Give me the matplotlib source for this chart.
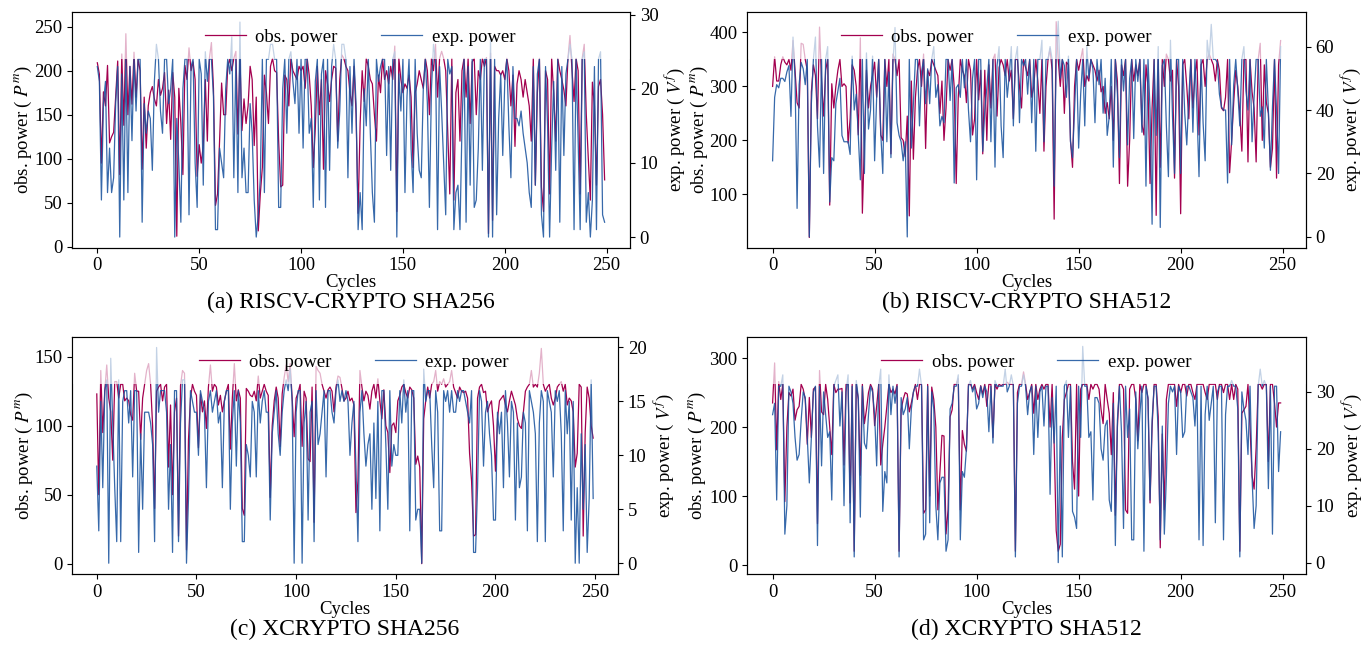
import matplotlib
matplotlib.use("Agg")
import matplotlib.pyplot as plt
from matplotlib.patches import Rectangle
from matplotlib.ticker import FuncFormatter

plt.rcParams['font.family'] = ['Liberation Serif', 'DejaVu Serif']
plt.rcParams['mathtext.fontset'] = 'stix'
plt.rcParams['font.size'] = 13.5

OBS_COLOR = '#a3004f'
EXP_COLOR = '#1b549f'

titles = ['(a) RISCV-CRYPTO SHA256', '(b) RISCV-CRYPTO SHA512',
          '(c) XCRYPTO SHA256', '(d) XCRYPTO SHA512']

# ---- (a) RISCV-CRYPTO SHA256 ----
obs_a = [
    209, 196, 95, 176, 160, 206, 118, 125, 130, 170, 211, 82, 219, 138, 242, 150, 205, 162, 221, 170, 213, 200, 88, 170, 112,
    160, 175, 182, 168, 160, 190, 172, 180, 198, 140, 178, 122, 198, 170, 12, 180, 140, 82, 206, 190, 226, 200, 210, 190, 80,
    116, 95, 115, 190, 120, 214, 232, 180, 47, 60, 120, 186, 150, 150, 205, 213, 200, 214, 222, 128, 214, 132, 168, 140, 160,
    205, 190, 115, 170, 18, 60, 90, 195, 175, 140, 205, 214, 200, 198, 120, 68, 70, 195, 190, 160, 214, 200, 195, 190, 205,
    200, 205, 180, 214, 195, 160, 90, 135, 205, 150, 190, 88, 200, 185, 165, 190, 205, 203, 120, 190, 218, 214, 205, 200, 175,
    160, 205, 150, 38, 140, 200, 165, 214, 205, 190, 185, 150, 120, 195, 175, 214, 190, 200, 185, 205, 190, 228, 40, 214, 190,
    175, 185, 180, 195, 170, 90, 175, 185, 200, 190, 180, 214, 200, 150, 214, 200, 230, 170, 214, 222, 214, 200, 130, 60, 214,
    53, 175, 190, 120, 200, 214, 170, 214, 140, 210, 214, 150, 200, 190, 214, 205, 215, 15, 220, 30, 205, 200, 200, 195, 200,
    190, 214, 200, 160, 195, 114, 185, 200, 190, 170, 190, 175, 160, 120, 214, 70, 175, 214, 68, 40, 200, 190, 60, 214, 175,
    120, 214, 200, 190, 178, 160, 214, 240, 200, 165, 214, 200, 60, 214, 230, 150, 100, 53, 187, 160, 70, 182, 190, 150, 76,
]
exp_a = [
    23, 21, 5, 18, 21, 6, 12, 6, 8, 18, 23, 0, 22, 5, 24, 6, 23, 13, 24, 17, 24, 24, 2, 18, 14,
    17, 16, 9, 21, 26, 24, 17, 14, 24, 24, 18, 20, 24, 0, 16, 10, 2, 20, 24, 24, 3, 23, 24, 10, 4,
    24, 22, 7, 25, 21, 24, 24, 19, 1, 1, 12, 10, 8, 20, 24, 22, 27, 8, 24, 6, 29, 8, 12, 6, 6,
    18, 14, 5, 0, 3, 8, 24, 6, 24, 24, 26, 26, 24, 24, 4, 4, 20, 24, 14, 24, 25, 21, 18, 24, 14,
    24, 12, 24, 24, 14, 16, 4, 21, 24, 5, 22, 24, 4, 24, 9, 23, 26, 24, 12, 17, 26, 26, 24, 8, 23,
    14, 24, 18, 1, 6, 1, 20, 15, 24, 14, 6, 2, 24, 21, 23, 24, 24, 11, 23, 9, 24, 25, 0, 22, 17,
    24, 6, 19, 24, 12, 6, 24, 14, 9, 8, 20, 24, 18, 4, 20, 26, 24, 1, 23, 17, 10, 3, 24, 22, 23,
    1, 6, 7, 1, 15, 24, 2, 23, 7, 24, 4, 5, 12, 24, 9, 24, 24, 0, 27, 0, 24, 3, 16, 22, 11,
    21, 24, 15, 8, 23, 16, 16, 15, 17, 14, 12, 10, 6, 4, 23, 7, 22, 24, 3, 0, 23, 15, 0, 12, 21,
    9, 24, 2, 23, 11, 22, 24, 26, 24, 1, 24, 13, 1, 24, 25, 2, 6, 0, 5, 23, 1, 24, 25, 3, 2,
]

# ---- (b) RISCV-CRYPTO SHA512 ----
obs_b = [
    300, 355, 310, 310, 340, 355, 345, 340, 350, 330, 385, 330, 270, 260, 380, 378, 350, 330, 20, 290, 340, 320, 240, 410, 310,
    245, 330, 350, 80, 305, 260, 300, 330, 350, 300, 305, 300, 195, 240, 340, 330, 300, 210, 390, 65, 200, 330, 260, 300, 320,
    345, 280, 350, 210, 200, 350, 300, 350, 175, 360, 350, 320, 350, 205, 200, 170, 245, 60, 310, 165, 280, 330, 350, 300, 360,
    185, 330, 320, 350, 340, 330, 320, 250, 310, 200, 260, 350, 330, 350, 300, 120, 280, 350, 330, 320, 270, 350, 330, 210, 240,
    350, 275, 330, 175, 330, 200, 340, 260, 350, 360, 245, 335, 350, 340, 320, 350, 310, 330, 240, 350, 350, 300, 260, 350, 335,
    320, 350, 280, 300, 350, 310, 250, 350, 180, 300, 350, 370, 330, 54, 420, 350, 300, 350, 250, 345, 340, 200, 150, 300, 350,
    330, 350, 370, 300, 320, 310, 350, 340, 330, 310, 330, 290, 300, 250, 270, 240, 300, 200, 350, 310, 120, 340, 320, 350, 115,
    200, 350, 310, 340, 320, 350, 230, 210, 340, 300, 120, 260, 350, 61, 350, 150, 350, 300, 360, 350, 310, 330, 130, 350, 300,
    64, 340, 350, 300, 240, 350, 260, 320, 350, 210, 340, 350, 300, 350, 360, 350, 340, 310, 350, 330, 260, 255, 280, 350, 140,
    200, 270, 330, 300, 250, 180, 350, 350, 160, 350, 290, 260, 160, 350, 380, 200, 340, 270, 250, 150, 185, 350, 130, 340, 385,
]
exp_b = [
    24, 44, 48, 47, 50, 50, 49, 52, 54, 38, 63, 50, 9, 48, 55, 53, 48, 56, 0, 42, 56, 63, 35, 22, 56,
    20, 56, 60, 11, 25, 24, 42, 46, 50, 32, 30, 30, 30, 26, 57, 40, 45, 32, 18, 56, 20, 58, 34, 40, 57,
    24, 44, 56, 33, 20, 56, 30, 52, 25, 55, 66, 36, 32, 30, 24, 30, 0, 56, 28, 42, 56, 56, 35, 52, 56,
    42, 53, 42, 56, 60, 44, 48, 35, 38, 36, 56, 56, 43, 56, 17, 47, 48, 44, 56, 47, 56, 40, 30, 50, 56,
    18, 56, 56, 27, 40, 47, 56, 30, 56, 22, 54, 60, 35, 25, 56, 44, 51, 60, 35, 56, 60, 36, 56, 54, 56,
    45, 56, 36, 56, 27, 56, 56, 62, 30, 56, 56, 60, 56, 16, 56, 68, 50, 56, 54, 44, 57, 30, 25, 40, 56,
    28, 45, 56, 35, 60, 50, 56, 53, 36, 56, 48, 56, 39, 50, 32, 38, 56, 22, 56, 45, 25, 56, 46, 56, 29,
    50, 56, 31, 56, 49, 56, 33, 56, 16, 56, 40, 4, 56, 32, 60, 3, 54, 56, 35, 19, 62, 38, 20, 56, 56,
    20, 56, 39, 29, 44, 56, 33, 56, 40, 19, 56, 36, 24, 62, 56, 67, 56, 56, 55, 45, 41, 40, 40, 17, 56,
    29, 48, 56, 46, 35, 56, 60, 46, 40, 56, 30, 44, 56, 56, 38, 41, 28, 56, 40, 21, 41, 56, 40, 20, 60,
]

# ---- (c) XCRYPTO SHA256 ----
obs_c = [
    123, 50, 140, 95, 125, 144, 120, 110, 75, 132, 132, 120, 130, 130, 118, 120, 118, 108, 104, 138, 125, 125, 90, 120, 130,
    140, 145, 130, 100, 40, 125, 128, 130, 118, 128, 130, 70, 115, 50, 110, 120, 20, 129, 140, 138, 10, 90, 120, 130, 125,
    122, 84, 123, 110, 118, 98, 128, 144, 125, 130, 128, 115, 122, 110, 118, 125, 130, 83, 120, 145, 118, 126, 120, 40, 35,
    127, 125, 122, 121, 125, 118, 136, 120, 125, 130, 125, 122, 48, 100, 118, 128, 120, 85, 123, 135, 144, 132, 145, 120, 92,
    120, 124, 130, 85, 125, 120, 76, 74, 128, 30, 143, 140, 138, 130, 125, 120, 126, 128, 125, 110, 128, 136, 135, 127, 118,
    120, 125, 118, 120, 115, 37, 60, 140, 128, 118, 125, 122, 112, 125, 130, 120, 134, 118, 105, 126, 100, 95, 66, 100, 102,
    95, 118, 122, 128, 130, 124, 120, 128, 126, 120, 72, 78, 70, 0, 105, 118, 128, 120, 130, 132, 140, 125, 132, 130, 134,
    128, 130, 132, 140, 128, 124, 120, 128, 125, 124, 125, 120, 80, 60, 20, 21, 120, 128, 130, 124, 125, 110, 115, 118, 100,
    67, 105, 118, 120, 122, 115, 110, 118, 125, 120, 115, 105, 100, 98, 110, 125, 128, 130, 140, 128, 130, 128, 138, 156, 130,
    125, 128, 130, 120, 115, 120, 128, 130, 132, 125, 130, 115, 120, 118, 110, 70, 80, 130, 128, 20, 95, 128, 120, 100, 91,
]
exp_c = [
    9, 3, 15, 7, 16, 17, 0, 19, 13, 7, 2, 17, 2, 15, 16, 16, 13, 16, 8, 16, 16, 1, 12, 5, 14,
    14, 14, 13, 11, 2, 20, 14, 16, 16, 16, 14, 5, 11, 1, 16, 16, 2, 13, 17, 17, 0, 6, 16, 15, 14,
    14, 10, 16, 15, 14, 7, 15, 16, 14, 15, 16, 13, 14, 7, 15, 16, 16, 5, 13, 16, 9, 16, 13, 2, 2,
    11, 10, 8, 15, 14, 8, 16, 13, 15, 16, 14, 14, 4, 12, 14, 16, 12, 10, 14, 16, 17, 16, 18, 15, 0,
    14, 16, 16, 0, 13, 15, 4, 14, 15, 2, 16, 11, 12, 14, 16, 8, 16, 16, 14, 13, 16, 17, 15, 16, 15,
    16, 15, 10, 13, 15, 9, 2, 14, 16, 12, 9, 11, 12, 5, 13, 6, 15, 3, 16, 16, 11, 5, 16, 9, 11,
    10, 10, 16, 13, 17, 14, 16, 3, 16, 16, 4, 5, 5, 0, 18, 15, 16, 16, 11, 7, 16, 14, 3, 3, 16,
    15, 16, 14, 16, 14, 14, 16, 15, 16, 16, 15, 14, 13, 16, 1, 1, 7, 16, 15, 9, 14, 15, 12, 10, 4,
    4, 14, 12, 14, 7, 16, 13, 8, 15, 14, 4, 13, 7, 8, 14, 13, 3, 16, 15, 14, 12, 2, 13, 16, 15,
    2, 16, 15, 14, 8, 16, 15, 16, 12, 3, 16, 12, 15, 4, 15, 0, 7, 0, 12, 5, 11, 1, 6, 17, 6,
]

# ---- (d) XCRYPTO SHA512 ----
obs_d = [
    235, 293, 167, 266, 240, 262, 92, 200, 250, 245, 255, 210, 225, 230, 262, 255, 240, 175, 243, 185, 255, 258, 60, 282, 222,
    218, 262, 240, 200, 160, 262, 250, 255, 255, 256, 145, 262, 262, 90, 262, 20, 262, 240, 130, 262, 205, 225, 250, 262, 255,
    202, 230, 262, 145, 175, 200, 230, 262, 250, 255, 248, 262, 20, 225, 240, 250, 248, 222, 235, 250, 262, 240, 262, 262, 75,
    80, 262, 100, 258, 240, 200, 80, 135, 188, 187, 45, 80, 215, 225, 262, 262, 270, 80, 195, 175, 165, 262, 262, 255, 262,
    250, 240, 260, 248, 262, 230, 262, 262, 185, 262, 255, 262, 260, 262, 262, 265, 262, 262, 262, 20, 250, 262, 262, 280, 262,
    240, 250, 262, 220, 262, 240, 255, 262, 255, 262, 262, 200, 262, 175, 50, 20, 30, 185, 240, 250, 262, 262, 150, 110, 262,
    100, 255, 262, 262, 262, 240, 262, 255, 262, 262, 255, 225, 205, 262, 240, 220, 160, 250, 72, 200, 262, 262, 255, 80, 75,
    255, 262, 262, 240, 180, 262, 250, 262, 262, 240, 90, 200, 262, 262, 215, 25, 190, 80, 240, 262, 262, 262, 262, 230, 262,
    250, 262, 262, 245, 262, 262, 250, 240, 262, 262, 262, 262, 250, 240, 262, 262, 262, 262, 240, 262, 262, 250, 262, 262, 240,
    262, 240, 262, 255, 20, 220, 225, 230, 262, 200, 130, 110, 170, 262, 262, 255, 262, 262, 150, 262, 262, 235, 200, 235, 235,
]
exp_d = [
    26, 28, 11, 31, 31, 33, 5, 10, 31, 30, 28, 22, 18, 19, 25, 30, 29, 22, 14, 22, 30, 31, 3, 31, 17,
    30, 26, 22, 23, 11, 31, 32, 33, 24, 30, 10, 30, 33, 7, 31, 1, 32, 29, 8, 31, 21, 20, 26, 31, 30,
    26, 17, 31, 34, 9, 16, 14, 33, 26, 31, 28, 31, 1, 29, 26, 27, 29, 20, 27, 30, 31, 31, 34, 31, 4,
    5, 31, 7, 30, 27, 10, 4, 14, 15, 15, 2, 4, 27, 28, 31, 31, 33, 4, 16, 15, 20, 31, 32, 30, 31,
    27, 28, 31, 29, 31, 30, 23, 31, 21, 32, 31, 31, 31, 31, 34, 30, 31, 33, 31, 1, 28, 31, 31, 33, 31,
    26, 30, 31, 19, 31, 22, 30, 31, 24, 31, 31, 12, 29, 21, 31, 0, 24, 1, 31, 32, 22, 31, 9, 8, 6,
    31, 22, 38, 31, 31, 22, 23, 11, 29, 29, 28, 20, 18, 24, 25, 11, 9, 28, 3, 25, 31, 23, 6, 31, 22,
    27, 4, 4, 30, 20, 26, 31, 2, 31, 29, 11, 25, 31, 31, 23, 4, 24, 5, 15, 28, 31, 30, 31, 19, 31,
    30, 22, 23, 31, 31, 30, 29, 24, 31, 4, 31, 3, 26, 31, 25, 28, 31, 7, 30, 31, 31, 4, 26, 31, 31,
    32, 31, 31, 27, 1, 30, 27, 25, 19, 31, 15, 6, 10, 31, 34, 31, 32, 31, 13, 31, 5, 31, 31, 16, 23,
]

panels = [
    (obs_a, exp_a, (-1.1, 266.7), (-1.44, 30.36)),
    (obs_b, exp_b, (1, 438), (-3.4, 70.9)),
    (obs_c, exp_c, (-7.5, 164.5), (-1.0, 21.0)),
    (obs_d, exp_d, (-13, 331), (-2.0, 39.7)),
]

# axes rectangles [left, bottom, width, height] in figure fraction
rects = [
    [0.0528, 0.6177, 0.4094, 0.3638],
    [0.5482, 0.6177, 0.4100, 0.3638],
    [0.0528, 0.1142, 0.4006, 0.3662],
    [0.5482, 0.1142, 0.4100, 0.3662],
]
# ylabel anchors (left label right edge, right label left edge), axes fraction
left_lab = [-0.068, -0.067, -0.068, -0.07]
right_lab = [1.059, 1.059, 1.062, 1.061]
legend_x = [0.516, 0.445, 0.516, 0.517]

fmt = FuncFormatter(lambda v, p: '%g' % v)

fig = plt.figure(figsize=(13.63, 6.48), dpi=100)
for i, (obs, exp, ylim1, ylim2) in enumerate(panels):
    assert len(obs) == 250 and len(exp) == 250, (i, len(obs), len(exp))
    ax = fig.add_axes(rects[i])
    ax2 = ax.twinx()
    cyc = list(range(len(obs)))
    l1, = ax.plot(cyc, obs, color=OBS_COLOR, lw=0.9)
    l2, = ax2.plot(cyc, exp, color=EXP_COLOR, lw=0.9, alpha=0.88)
    ax.set_ylim(*ylim1)
    ax2.set_ylim(*ylim2)
    ax.set_xlim(-12.45, 261.45)
    ax.set_xticks([0, 50, 100, 150, 200, 250])
    ax.yaxis.set_major_formatter(fmt)
    ax2.yaxis.set_major_formatter(fmt)
    ax.set_xlabel('Cycles', labelpad=0)
    ax.set_ylabel('obs. power ( $P^m$)')
    ax2.set_ylabel('exp. power ( $V^f$)')
    ax.yaxis.set_label_coords(left_lab[i], 0.5)
    ax2.yaxis.set_label_coords(right_lab[i], 0.5)
    # legend band fades the top of the plot
    ax2.add_patch(Rectangle((0, 0.8), 1, 0.2, transform=ax2.transAxes,
                            facecolor='white', edgecolor='none', alpha=0.7, zorder=4))
    for sp in ax2.spines.values():
        sp.set_zorder(6)
        sp.set_color('black')
    leg = ax2.legend([l1, l2], ['obs. power', 'exp. power'], loc='upper center',
                     bbox_to_anchor=(legend_x[i], 1.0), ncol=2, frameon=False,
                     columnspacing=2.3, handlelength=2.2, handletextpad=0.5, fontsize=13.5)
    leg.set_zorder(5)
    bb = ax.get_position()
    fig.text(bb.x0 + bb.width / 2, bb.y0 - 0.085, titles[i], ha='center', va='center', fontsize=17)

fig.savefig('out.png', dpi=100)
